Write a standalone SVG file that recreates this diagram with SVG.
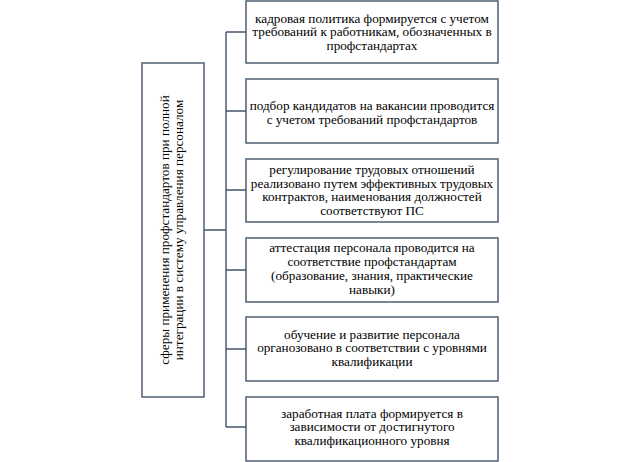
<svg xmlns="http://www.w3.org/2000/svg" width="644" height="462" viewBox="0 0 644 462">
<style>
.box{fill:#ffffff;stroke:#44546a;stroke-width:1.4}
.ln{fill:none;stroke:#44546a;stroke-width:1.4}
.t{font-family:'Liberation Serif','Times New Roman',serif;font-size:13.2px;fill:#000000;text-anchor:middle}
</style>
<rect width="644" height="462" fill="#ffffff"/>
<g id="connectors">
<path class="ln" d="M226,32 V427 M226,32 H246 M226,111 H246 M226,190 H246 M226,270 H246 M226,349 H246 M226,427 H246 M204,230 H226"/>
</g>
<g id="root">
<rect class="box" x="142" y="63" width="62" height="334"/>
<text class="t" transform="translate(169,230) rotate(-90)"><tspan x="0" y="0">сферы применения профстандартов при полной</tspan><tspan x="0" y="14">интеграции в систему управления  персоналом</tspan></text>
</g>
<g id="n1">
<rect class="box" x="246" y="1" width="252" height="62"/>
<text class="t"><tspan x="372" y="22.5">кадровая политика формируется  с учетом</tspan><tspan x="372" y="36">требований к работникам, обозначенных в</tspan><tspan x="372" y="49.5">профстандартах</tspan></text>
</g>
<g id="n2">
<rect class="box" x="246" y="79" width="252" height="64"/>
<text class="t"><tspan x="372" y="110">подбор кандидатов на вакансии проводится</tspan><tspan x="372" y="123.5">с учетом  требований профстандартов</tspan></text>
</g>
<g id="n3">
<rect class="box" x="246" y="159" width="252" height="63"/>
<text class="t"><tspan x="372" y="174">регулирование  трудовых  отношений</tspan><tspan x="372" y="187.5">реализовано путем  эффективных трудовых</tspan><tspan x="372" y="201">контрактов, наименования должностей</tspan><tspan x="372" y="214.5">соответствуют ПС</tspan></text>
</g>
<g id="n4">
<rect class="box" x="246" y="238" width="252" height="64"/>
<text class="t"><tspan x="372" y="252">аттестация персонала проводится на</tspan><tspan x="372" y="266">соответствие профстандартам</tspan><tspan x="372" y="280">(образование, знания, практические</tspan><tspan x="372" y="293.5">навыки)</tspan></text>
</g>
<g id="n5">
<rect class="box" x="246" y="317" width="252" height="64"/>
<text class="t"><tspan x="372" y="338.5">обучение и развитие персонала</tspan><tspan x="372" y="352">органозовано в соответствии с уровнями</tspan><tspan x="372" y="365.5">квалификации</tspan></text>
</g>
<g id="n6">
<rect class="box" x="246" y="397" width="252" height="64"/>
<text class="t"><tspan x="372" y="417.5">заработная плата формируется  в</tspan><tspan x="372" y="431">зависимости от достигнутого</tspan><tspan x="372" y="444.5">квалификационного уровня</tspan></text>
</g>
</svg>
